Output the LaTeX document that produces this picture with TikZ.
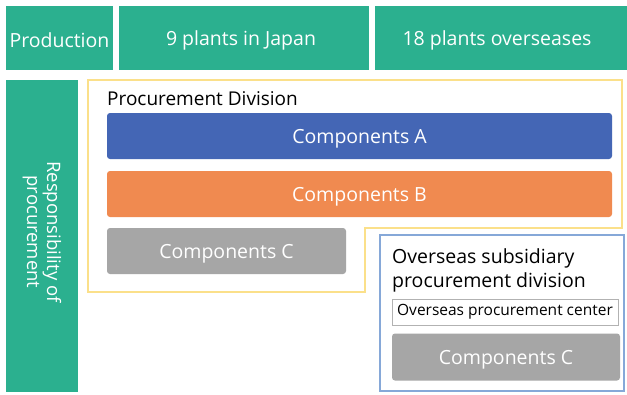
\documentclass[tikz,border=0pt]{standalone}
\usepackage{fontspec}
\setmainfont{Open Sans}
\definecolor{teal}{HTML}{2BB08F}
\definecolor{cblue}{HTML}{4466B5}
\definecolor{corange}{HTML}{F08A50}
\definecolor{cgrey}{HTML}{A6A6A6}
\definecolor{cyel}{HTML}{FBE08A}
\definecolor{bbord}{HTML}{86A8D8}
\begin{document}
\begin{tikzpicture}[x=1pt,y=-1pt,
  hdr/.style={text=white,font=\fontsize{19.5}{22}\selectfont},
  comp/.style={draw=none,rounded corners=3pt,text=white,text depth=0pt,font=\fontsize{19.5}{22}\selectfont},
  lbl/.style={anchor=base west,inner sep=0pt,font=\fontsize{19}{22}\selectfont}]
\useasboundingbox[fill=white] (0,0) rectangle (627,394);
% header row
\fill[teal] (6,6) rectangle (113,70);
\node[hdr] (prod) at (59.5,40) {Production};
\fill[teal] (119,6) rectangle (369,70);
\node[hdr] (jp) at (241,40) {9 plants in Japan};
\fill[teal] (375,6) rectangle (627,70);
\node[hdr] (os) at (497,40) {18 plants overseases};
% left column
\fill[teal] (6,80) rectangle (78,392);
\node[text=white,rotate=-90,align=center,font=\fontsize{18.5}{20}\selectfont] (resp) at (42,232) {Responsibility of\\procurement};
% yellow procurement division
\draw[cyel,line width=2pt] (88,80) -- (622,80) -- (622,228) -- (365,228) -- (365,292) -- (88,292) -- cycle;
\node[lbl] (pd) at (107,105) {Procurement Division};
\node[comp,fill=cblue,minimum width=505pt,minimum height=46pt] (ca) at (359.5,136) {Components A};
\node[comp,fill=corange,minimum width=505pt,minimum height=46pt] (cb) at (359.5,194) {Components B};
\node[comp,fill=cgrey,minimum width=239pt,minimum height=46pt] (cc) at (226.5,251) {Components C};
% overseas subsidiary
\draw[bbord,line width=1.5pt,fill=white] (380,235) rectangle (624,391);
\node[align=left,anchor=north west,inner sep=0pt,font=\fontsize{19.5}{24}\selectfont] (osd) at (392,248) {Overseas subsidiary\\procurement division};
\node[draw=gray!60,line width=0.6pt,minimum width=226pt,minimum height=26pt,inner sep=0pt,font=\fontsize{15.5}{18}\selectfont] (opc) at (505,312) {Overseas procurement center};
\node[comp,fill=cgrey,minimum width=228pt,minimum height=47pt] (cc2) at (506,357) {Components C};
\end{tikzpicture}
\end{document}
